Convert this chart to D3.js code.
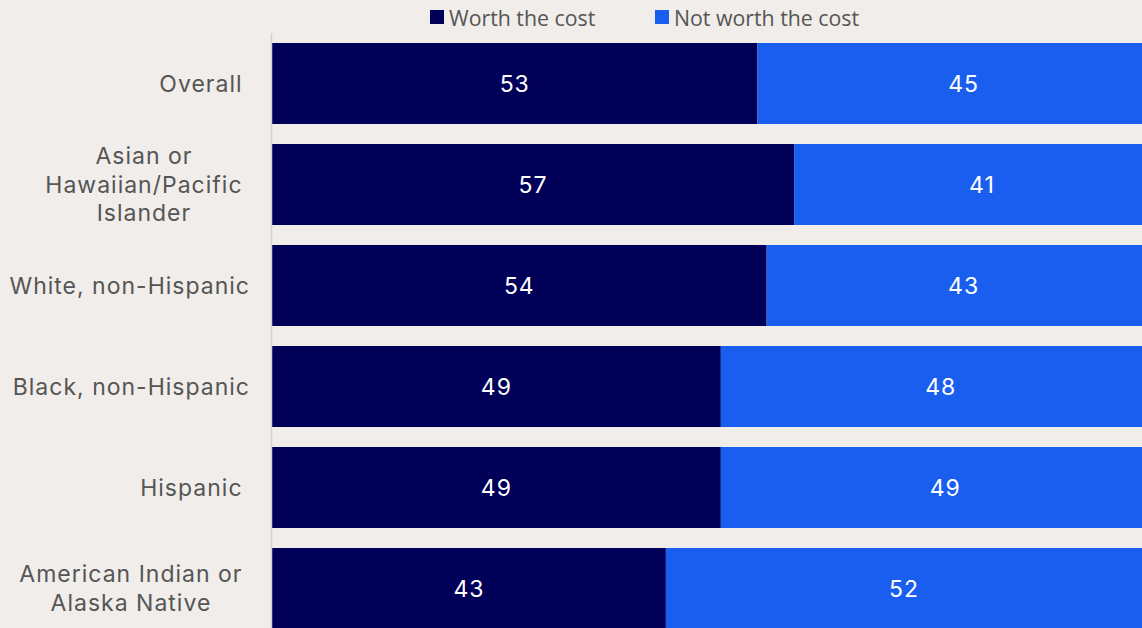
<!DOCTYPE html>
<html>
<head>
<meta charset="utf-8">
<script src="https://cdn.jsdelivr.net/npm/d3@7"></script>
<style>
  html, body { margin: 0; padding: 0; background: #f0edea; }
  svg { display: block; }
  .cat { font-family: Inter, sans-serif; font-size: 23px; letter-spacing: 1px; fill: #555555; white-space: pre; }
  .val { font-family: Inter, sans-serif; font-size: 23px; letter-spacing: 1px; fill: #ffffff; }
  .leg { font-family: "Open Sans", sans-serif; font-size: 21.3px; fill: #555555; }
</style>
</head>
<body>
<svg id="chart" width="1142" height="628"></svg>
<script>
// Survey groups (label lines keep the trailing spaces of the original labels)
const categories = [
  ["Overall "],
  ["Asian or ", "Hawaiian/Pacific ", "Islander "],
  ["White, non-Hispanic"],
  ["Black, non-Hispanic"],
  ["Hispanic "],
  ["American Indian or ", "Alaska Native "]
];
const worth    = [53, 57, 54, 49, 49, 43];
const notWorth = [45, 41, 43, 48, 49, 52];
const seriesNames = ["Worth the cost", "Not worth the cost"];
const seriesColors = ["#000058", "#1a5ef0"];

const W = 1142, H = 628;
const svg = d3.select("#chart");

const keys = categories.map((c, i) => "c" + i);
const rows = keys.map((k, i) => ({ key: k, lines: categories[i], w: worth[i], n: notWorth[i] }));

// percentage axis runs past the right edge; the view clips the bar ends
const x = d3.scaleLinear().domain([0, 100]).range([272, 1188]);
const y = d3.scaleBand().domain(keys).range([33, 639])
  .paddingInner(20 / 101).paddingOuter(10 / 101);

const plot = svg.append("g");

// stacked segments
const segs = [];
rows.forEach(r => {
  segs.push({ key: r.key, x0: 0, x1: r.w, v: r.w, s: 0 });
  segs.push({ key: r.key, x0: r.w, x1: r.w + r.n, v: r.n, s: 1 });
});

plot.selectAll("rect.seg").data(segs).join("rect")
  .attr("class", "seg")
  .attr("x", d => x(d.x0))
  .attr("y", d => y(d.key))
  .attr("width", d => x(d.x1) - x(d.x0))
  .attr("height", y.bandwidth())
  .attr("fill", d => seriesColors[d.s]);

plot.selectAll("text.val").data(segs).join("text")
  .attr("class", "val")
  .attr("x", d => (x(d.x0) + x(d.x1)) / 2)
  .attr("y", d => y(d.key) + y.bandwidth() / 2)
  .attr("text-anchor", "middle")
  .attr("dominant-baseline", "central")
  .text(d => d.v);

// vertical baseline
svg.append("line")
  .attr("x1", 271.5).attr("x2", 271.5)
  .attr("y1", 33).attr("y2", H)
  .attr("stroke", "#d2d2d6").attr("stroke-width", 1.5);

// category labels: block right-aligned, lines centred within the block
const labelRight = 250;
const lineH = 28.5;
rows.forEach(r => {
  const n = r.lines.length;
  const cy = y(r.key) + y.bandwidth() / 2;
  const lines = r.lines.map((ln, i) =>
    svg.append("text").attr("class", "cat").attr("xml:space", "preserve")
      .attr("dominant-baseline", "central")
      .attr("y", cy + (i - (n - 1) / 2) * lineH)
      .text(ln));
  const widths = lines.map(s => s.node().getComputedTextLength());
  const blockW = d3.max(widths);
  const center = labelRight - blockW / 2;
  lines.forEach((s, i) => s.attr("x", center - widths[i] / 2));
});

// legend
const legX = [430, 655];
const leg = svg.append("g");
seriesNames.forEach((name, i) => {
  leg.append("rect")
    .attr("x", legX[i]).attr("y", 10)
    .attr("width", 14).attr("height", 14)
    .attr("fill", seriesColors[i]);
  leg.append("text")
    .attr("class", "leg")
    .attr("x", legX[i] + 19).attr("y", 17)
    .attr("dominant-baseline", "central")
    .text(name);
});
</script>
</body>
</html>
